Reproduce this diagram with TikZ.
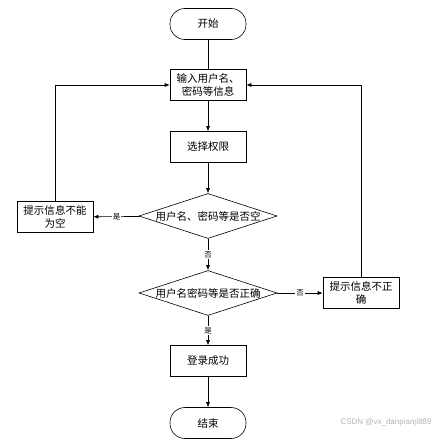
\documentclass[tikz,border=0pt]{standalone}
\usepackage{fontspec}
\setmainfont{Noto Sans CJK SC}
\newfontfamily\markfont{Liberation Sans}
\usepackage{tikz}
\usetikzlibrary{arrows.meta,shapes.geometric,positioning}

\begin{document}
\begin{tikzpicture}[x=1pt,y=1pt]

\tikzset{
  box/.style={draw,semithick,minimum width=76pt,minimum height=31pt,inner sep=1pt,
    align=center,text width=72pt,font=\fontsize{10.5}{12.5}\selectfont},
  term/.style={box,rounded corners=15pt},
  test/.style={draw,semithick,diamond,aspect=3,inner sep=0pt,minimum width=138pt,
    minimum height=45pt,font=\fontsize{10.5}{12.5}\selectfont},
  link/.style={draw,semithick,-{Latex[length=5pt,width=4pt]}},
  tag/.style={fill=white,inner sep=1pt,font=\fontsize{7.5}{9}\selectfont}
}

\useasboundingbox (0,0) rectangle (440,-444);

\node[term] (start) at (208,-24) {开始};
\node[box] (input) at (208,-85) {输入用户名、\\密码等信息};
\node[box] (role) at (208,-147) {选择权限};
\node[test] (empty) at (208,-216) {用户名、密码等是否空};
\node[box] (warnempty) at (55,-217) {提示信息不能\\为空};
\node[test] (check) at (208,-293) {用户名密码等是否正确};
\node[box] (warnwrong) at (361,-293) {提示信息不正\\确};
\node[box] (login) at (208,-361) {登录成功};
\node[term] (stop) at (208,-423) {结束};

% main line
\draw[semithick] (start) -- (input);
\draw[link] (input) -- (role);
\draw[link] (role) -- (empty);
\draw[link] (empty) -- node[tag] {否} (check);
\draw[link] (check) -- node[tag] {是} (login);
\draw[link] (login) -- (stop);

% side branches
\draw[link] (empty) -- node[tag] {是} (warnempty);
\draw[link] (check) -- node[tag] {否} (warnwrong);
\draw[link] (warnempty.north) |- (input.west);
\draw[link] (warnwrong.north) |- (input.east);

\node[text=gray!60,font=\markfont\fontsize{8}{9}\selectfont] (mark) at (386,-422) {CSDN @vx\_danpianji889};

\end{tikzpicture}
\end{document}
